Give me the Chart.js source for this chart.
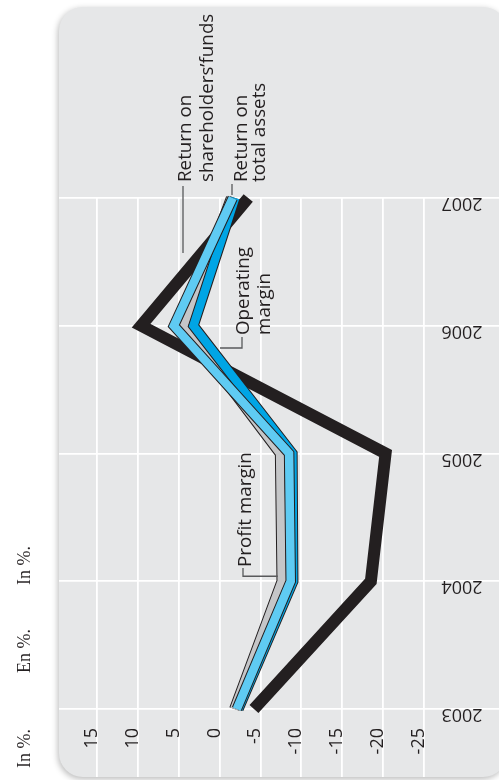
<!DOCTYPE html>
<html>
<head>
<meta charset="utf-8">
<title>Ratios 2003-2007</title>
<script src="https://cdn.jsdelivr.net/npm/chart.js@4/dist/chart.umd.min.js"></script>
<style>
  html, body { margin: 0; padding: 0; background: #fff; }
  #wrap { position: relative; width: 499px; height: 780px; }
</style>
</head>
<body>
<div id="wrap"><canvas id="ratiosChart" width="499" height="780"></canvas></div>
<script>
// Years and ratio series (in %)
const years = [2003, 2004, 2005, 2006, 2007];
const returnOnEquity = [-4.2, -18.5, -20.3, 9.6, -3.5];
const returnOnAssets = [-2.1, -8.7, -8.5, 5.6, -1.6];
const operatingMargin = [-2.3, -9.0, -8.9, 3.2, -1.9];
const profitMargin = [-1.8, -7.6, -7.4, 4.4, -1.4];

const valueTicks = [15, 10, 5, 0, -5, -10, -15, -20, -25];
const unitLabels = ["In %.", "En %.", "In %."];

const INK = "#231f20";
const SANS = "'Open Sans', 'Noto Sans', sans-serif";

function series(values, color, width) {
  return {
    data: years.map((y, i) => ({ x: values[i], y: y })),
    borderColor: color,
    borderWidth: width,
    borderJoinStyle: "miter",
    pointRadius: 0,
    tension: 0,
    fill: false,
    clip: false,
  };
}

// first dataset ends up on top
const datasets = [
  series(returnOnAssets, "#5fcbf3", 8.5),
  series(returnOnAssets, INK, 10.5),
  series(operatingMargin, "#00a5e5", 8.5),
  series(operatingMargin, INK, 10.5),
  series(profitMargin, "#c5c6c8", 8.5),
  series(profitMargin, INK, 10.5),
  series(returnOnEquity, INK, 12),
];

// grey rounded panel behind the grid
const panel = {
  id: "panel",
  beforeDraw(chart) {
    const ctx = chart.ctx;
    ctx.save();
    ctx.shadowColor = "rgba(0,0,0,0.28)";
    ctx.shadowBlur = 6;
    ctx.shadowOffsetX = -1;
    ctx.shadowOffsetY = 2;
    ctx.fillStyle = "#e6e7e8";
    ctx.beginPath();
    ctx.roundRect(59, 7, 448, 770, 24);
    ctx.fill();
    ctx.restore();
  },
};

function rotatedText(ctx, lines, x, y, gap, align) {
  ctx.save();
  ctx.translate(x, y);
  ctx.rotate(-Math.PI / 2);
  ctx.textAlign = align || "left";
  ctx.textBaseline = "alphabetic";
  lines.forEach((t, i) => ctx.fillText(t, 0, i * gap));
  ctx.restore();
}

function leader(ctx, pts) {
  ctx.beginPath();
  ctx.moveTo(pts[0][0], pts[0][1]);
  pts.slice(1).forEach(p => ctx.lineTo(p[0], p[1]));
  ctx.stroke();
}

// tick labels, year labels and series captions
const labels = {
  id: "labels",
  afterDraw(chart) {
    const ctx = chart.ctx;
    const xs = chart.scales.x;
    const ys = chart.scales.y;
    ctx.save();
    ctx.fillStyle = INK;

    ctx.font = "18px " + SANS;
    valueTicks.forEach(v => {
      rotatedText(ctx, [String(v)], xs.getPixelForValue(v), 728, 0, "right");
    });

    years.forEach(yr => {
      ctx.save();
      ctx.translate(462, ys.getPixelForValue(yr));
      ctx.rotate(Math.PI);
      ctx.textAlign = "center";
      ctx.textBaseline = "alphabetic";
      ctx.fillText(String(yr), 0, 0);
      ctx.restore();
    });

    ctx.font = "18.8px " + SANS;
    rotatedText(ctx, ["Return on", "shareholders\u2019funds"], 191, 182, 22);
    rotatedText(ctx, ["Return on", "total assets"], 247, 182, 18);
    rotatedText(ctx, ["Operating", "margin"], 249, 335, 21);
    rotatedText(ctx, ["Profit margin"], 251, 567, 0);

    ctx.strokeStyle = "#58595b";
    ctx.lineWidth = 1.3;
    leader(ctx, [[183, 186], [183, 253]]);
    leader(ctx, [[232, 184], [232, 195]]);
    leader(ctx, [[242, 337], [242, 348], [220, 348]]);
    const profitY = ys.getPixelForValue(2004) - 5;
    leader(ctx, [[243, 568], [243, profitY], [xs.getPixelForValue(profitMargin[1]) - 4, profitY]]);

    ctx.font = "18px 'Liberation Serif', 'DejaVu Serif', serif";
    [585, 673, 768].forEach((y, i) => rotatedText(ctx, [unitLabels[i]], 30, y, 0));
    ctx.restore();
  },
};

const gridStyle = { color: "#ffffff", lineWidth: 1.8, drawTicks: false };

new Chart(document.getElementById("ratiosChart"), {
  type: "line",
  data: { datasets: datasets },
  options: {
    responsive: false,
    animation: false,
    devicePixelRatio: 1,
    layout: { padding: { left: 59, right: 0, top: 198, bottom: 3 } },
    plugins: { legend: { display: false }, tooltip: { enabled: false } },
    scales: {
      x: {
        type: "linear",
        reverse: true,
        min: -34.175,
        max: 19.648,
        afterBuildTicks: s => { s.ticks = valueTicks.map(v => ({ value: v })); },
        afterFit: s => { s.height = 0; },
        ticks: { display: false },
        border: { display: false },
        grid: gridStyle,
      },
      y: {
        type: "linear",
        min: 2002.468,
        max: 2007,
        afterBuildTicks: s => { s.ticks = years.map(v => ({ value: v })); },
        afterFit: s => { s.width = 0; },
        ticks: { display: false },
        border: { display: false },
        grid: gridStyle,
      },
    },
  },
  plugins: [panel, labels],
});
</script>
</body>
</html>
